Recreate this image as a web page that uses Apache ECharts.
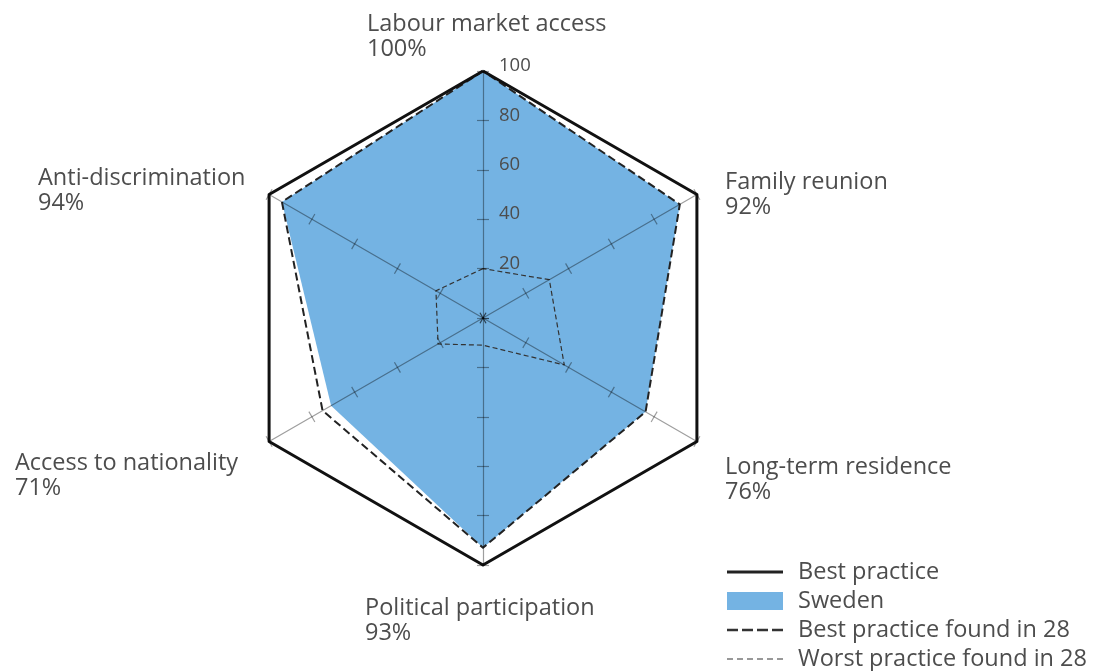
<!DOCTYPE html>
<html>
<head>
<meta charset="utf-8">
<title>Sweden</title>
<style>
html, body { margin: 0; padding: 0; background: #fff; }
#chart { width: 1098px; height: 671px; }
</style>
</head>
<body>
<div id="chart"></div>
<script src="https://cdn.jsdelivr.net/npm/echarts@6/dist/echarts.min.js"></script>
<script>
// indicators go counter-clockwise from the top
var indicators = ['Labour market access', 'Anti-discrimination', 'Access to nationality', 'Political participation', 'Long-term residence', 'Family reunion'];
var bestPractice = [100, 100, 100, 100, 100, 100];
var sweden = [100, 94, 71, 93, 76, 92];
var bestFound = [100, 94, 75, 93, 76, 92];
var worstFound = [20, 22, 21, 11, 38, 31];
var ticks = [0, 20, 40, 60, 80, 100];

// where each indicator name block sits (left, top)
var namePos = [[367, 12], [38, 166], [15, 451], [365, 596], [725, 455], [725, 170]];

var font = 'Open Sans';
var textColor = '#4d4d4d';
var axisColor = 'rgba(0,0,0,0.38)';

var radarBase = {
    center: [483, 318],
    radius: 247,
    startAngle: 90,
    shape: 'polygon',
    splitNumber: ticks.length - 1,
    z: 5,
    axisName: { show: false },
    splitLine: { show: false },
    splitArea: { show: false }
};

var myChart = echarts.init(document.getElementById('chart')),
    option = {
        backgroundColor: '#fff',
        animation: false,
        graphic: {
            elements: indicators.map(function (n, i) {
                return {
                    type: 'text',
                    left: namePos[i][0],
                    top: namePos[i][1],
                    style: {
                        text: n + '\n' + sweden[i] + '%',
                        fontFamily: font,
                        fontSize: 23.5,
                        lineHeight: 25,
                        fill: textColor
                    }
                };
            })
        },
        legend: {
            orient: 'vertical',
            left: 727,
            top: 560,
            padding: 0,
            itemWidth: 56,
            itemHeight: 18,
            itemGap: 5,
            selectedMode: false,
            textStyle: { fontFamily: font, fontSize: 23.5, color: textColor, lineHeight: 18, padding: [0, 0, 0, 10] },
            data: [
                { name: 'Best practice', icon: 'path://M0,0h56v3h-56z', itemStyle: { color: '#222', borderWidth: 0 } },
                { name: 'Sweden', icon: 'rect', itemStyle: { color: '#74b3e3', borderWidth: 0 } },
                { name: 'Best practice found in 28', icon: 'path://M0,0h11v2.5h-11z M15,0h11v2.5h-11z M30,0h11v2.5h-11z M45,0h11v2.5h-11z', itemStyle: { color: '#333', borderWidth: 0 } },
                { name: 'Worst practice found in 28', icon: 'path://M0,0h6v1.5h-6z M10,0h6v1.5h-6z M20,0h6v1.5h-6z M30,0h6v1.5h-6z M40,0h6v1.5h-6z M50,0h6v1.5h-6z', itemStyle: { color: '#777', borderWidth: 0 } }
            ]
        },
        radar: [
            Object.assign({}, radarBase, {
                indicator: indicators.map(function (n, i) {
                    var ind = { name: n, min: ticks[0], max: ticks[ticks.length - 1] };
                    if (i === 0) {
                        ind.axisLabel = {
                            show: true, showMinLabel: false, margin: -16, align: 'left', verticalAlign: 'bottom',
                            lineHeight: 10, fontFamily: font, fontSize: 18.5, color: textColor
                        };
                    }
                    return ind;
                }),
                axisLine: { lineStyle: { color: axisColor, width: 1.2 } },
                axisTick: { show: true, length: 6, lineStyle: { color: axisColor, width: 1.2 } },
                axisLabel: { show: false }
            }),
            // same geometry, only to put the tick marks on the other side of each axis
            Object.assign({}, radarBase, {
                indicator: indicators.map(function (n) {
                    return { name: n, min: ticks[0], max: ticks[ticks.length - 1] };
                }),
                axisLine: { show: false },
                axisTick: { show: true, length: -6, lineStyle: { color: axisColor, width: 1.2 } },
                axisLabel: { show: false }
            })
        ],
        series: [{
            type: 'radar',
            radarIndex: 0,
            symbol: 'none',
            data: [
                {
                    name: 'Sweden', value: sweden,
                    itemStyle: { color: '#74b3e3' },
                    lineStyle: { width: 0, color: '#74b3e3' },
                    areaStyle: { color: '#74b3e3', opacity: 1 }
                },
                {
                    name: 'Best practice found in 28', value: bestFound,
                    itemStyle: { color: '#333' },
                    lineStyle: { color: '#222', width: 2, type: [8, 4] }
                },
                {
                    name: 'Worst practice found in 28', value: worstFound,
                    itemStyle: { color: '#777' },
                    lineStyle: { color: '#333', width: 1.2, type: [5, 3] }
                },
                {
                    name: 'Best practice', value: bestPractice,
                    itemStyle: { color: '#222' },
                    lineStyle: { color: '#111', width: 3 }
                }
            ]
        }]
    };
myChart.setOption(option);
</script>
</body>
</html>
